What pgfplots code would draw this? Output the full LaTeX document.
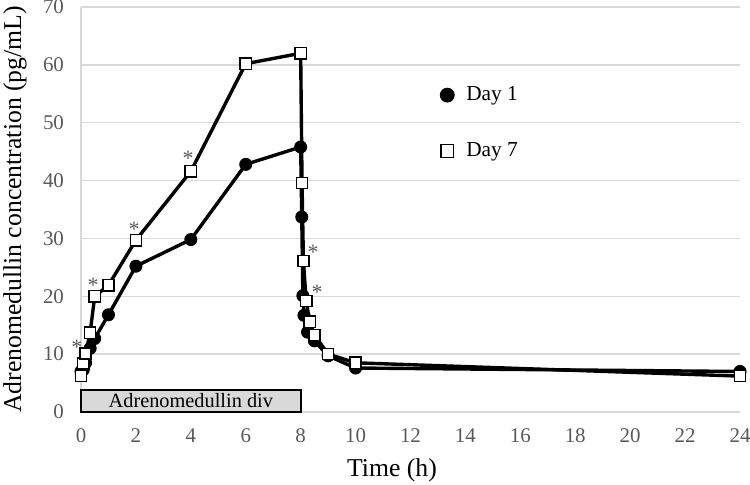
\documentclass[border=0pt]{standalone}
\usepackage{pgfplots}
\pgfplotsset{compat=1.18}
\usepackage{fontspec}
\setmainfont{Liberation Serif}
\definecolor{gridc}{HTML}{D9D9D9}
\definecolor{tickc}{HTML}{595959}
\definecolor{boxc}{HTML}{D9D9D9}
\begin{document}
\begin{tikzpicture}
\begin{axis}[
  name=ax,
  scale only axis,
  width=329.5bp, height=202.5bp,
  xmin=0, xmax=24, ymin=0, ymax=70,
  xtick={0,2,...,24}, ytick={0,10,...,70},
  axis x line*=bottom, axis y line*=left,
  axis line style={gridc, line width=0.75bp},
  ymajorgrids, grid style={gridc, line width=0.75bp},
  major tick length=0pt,
  /pgf/number format/assume math mode=true,
  xticklabel style={font=\fontsize{10.5}{12}\selectfont, text=tickc, anchor=north, yshift=-5bp},
  yticklabel style={font=\fontsize{10.5}{12}\selectfont, text=tickc, anchor=east, xshift=-5bp},
  clip=false,
  xlabel={Time (h)},
  ylabel={Adrenomedullin concentration (pg/mL)},
  every axis x label/.style={at={(axis description cs:0.472,-0.1432)}, anchor=center, font=\fontsize{12.9}{15}\selectfont},
  every axis y label/.style={at={(axis description cs:-0.1002,0.5)}, anchor=center, rotate=90, font=\fontsize{12.9}{15}\selectfont},
  legend style={at={(axis cs:13.07,57.0)}, anchor=north west, draw=none, fill=none,
    font=\fontsize{10.7}{12.8}\selectfont, row sep=15.5bp, inner sep=0pt,
    /tikz/every even column/.append style={column sep=0pt}},
  legend cell align=left,
]
\draw[fill=boxc, draw=black, line width=1bp] (axis cs:0,0) rectangle (axis cs:8,3.8);
\node[font=\fontsize{10.2}{12}\selectfont] at (axis cs:4,1.9) {Adrenomedullin div};

% Day 1
\addplot[black, line width=1.7bp, mark=*, mark size=3bp, mark options={fill=black, line width=0.5bp}, forget plot]
coordinates {
(0,7.0) (0.083,7.3) (0.167,8.5) (0.333,11.0) (0.5,12.7) (1,16.8) (2,25.2) (4,29.8) (6,42.8) (8,45.8)
(8.04,33.7) (8.08,20.1) (8.12,16.7) (8.25,13.8) (8.5,12.3) (9,9.7) (10,7.6) (24,7.0)
};
% Day 7
\addplot[black, line width=1.7bp, mark=square*, mark size=2.8bp, mark options={fill=white, line width=0.75bp}, forget plot]
coordinates {
(0,6.2) (0.083,8.4) (0.167,10.1) (0.333,13.7) (0.5,20.0) (1,21.9) (2,29.7) (4,41.6) (6,60.2) (8,62.0)
(8.05,39.6) (8.1,26.1) (8.2,19.2) (8.33,15.6) (8.5,13.3) (9,10.0) (10,8.5) (24,6.2)
};

\addlegendimage{only marks, mark=*, mark size=3.5bp, fill=black}
\addlegendentry{\hspace{4bp}Day 1}
\addlegendimage{only marks, mark=square*, mark size=3.2bp, mark options={fill=white, line width=0.75bp}}
\addlegendentry{\hspace{4bp}Day 7}

\foreach \px/\py in {-0.15/11.1, 0.44/21.9, 1.93/31.6, 3.9/43.9, 8.45/27.6, 8.6/20.6}{
  \edef\tmp{\noexpand\node[font=\noexpand\fontsize{11}{12}\noexpand\selectfont, text=tickc] at (axis cs:\px,\py) {*};}\tmp
}
\end{axis}
\pgfresetboundingbox
\path[use as bounding box] ([xshift=-40.5bp,yshift=-36.5bp]ax.south west) rectangle ([xshift=5bp,yshift=3.5bp]ax.north east);
\end{tikzpicture}
\end{document}
